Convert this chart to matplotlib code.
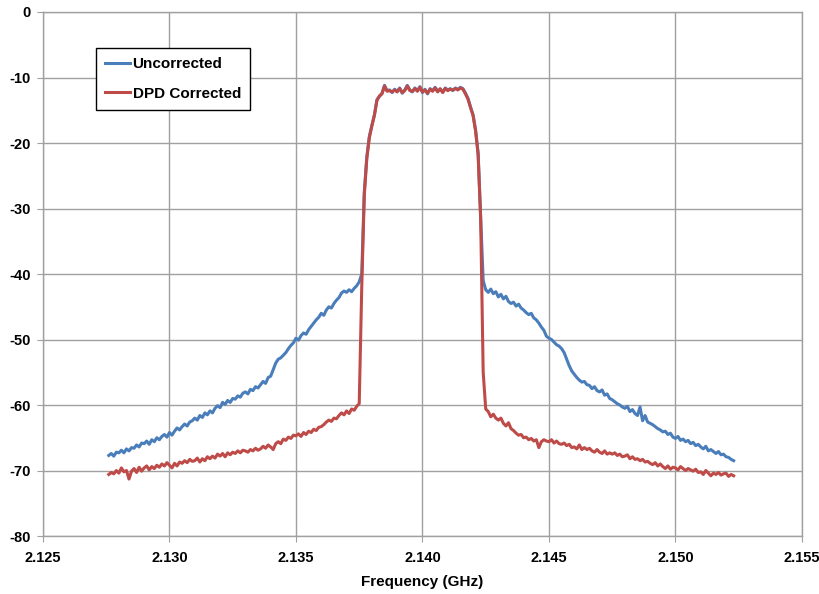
import numpy as np
import matplotlib
matplotlib.use("Agg")
import matplotlib.pyplot as plt

# frequency grid, 100 kHz steps (GHz)
freq_ghz = np.round(np.arange(2.1276, 2.15235, 0.0001), 4)

uncorrected = [
    -67.7, -67.4, -67.8, -67.2, -67.3, -66.9, -67.3, -66.7, -67.0, -66.5,
    -66.6, -66.1, -66.4, -65.8, -65.9, -65.5, -66.0, -65.3, -65.6, -65.0,
    -65.3, -64.8, -64.5, -64.9, -64.2, -64.6, -64.0, -63.5, -63.8, -63.3,
    -62.9, -63.2, -62.6, -62.4, -62.0, -62.3, -61.6, -61.9, -61.2, -61.5,
    -60.9, -61.2, -60.5, -60.1, -60.4, -59.6, -59.9, -59.3, -59.6, -59.0,
    -59.1, -58.6, -58.8, -58.2, -58.0, -58.3, -57.6, -57.8, -57.2, -57.4,
    -56.9, -56.4, -56.7, -55.8, -55.6, -54.6, -53.6, -53.0, -52.8, -52.4,
    -52.0, -51.4, -50.9, -50.5, -49.8, -50.1, -49.4, -49.0, -49.2, -48.5,
    -48.0, -47.5, -47.0, -46.6, -46.0, -46.3, -45.5, -45.0, -45.2, -44.5,
    -44.0, -43.6, -42.9, -42.6, -42.8, -42.4, -42.7, -42.2, -41.8, -41.2,
    -40.0, -27.5, -22.1, -19.0, -17.3, -15.7, -13.4, -12.9, -12.4, -11.2,
    -12.0, -11.9, -12.3, -11.8, -12.1, -11.6, -12.4, -11.9, -11.2, -11.9,
    -12.2, -11.6, -12.0, -11.4, -12.3, -11.8, -12.5, -11.7, -12.0, -11.5,
    -12.1, -11.8, -12.2, -11.6, -11.9, -11.7, -12.0, -11.6, -11.8, -11.5,
    -11.7, -12.4, -13.2, -14.5, -15.7, -18.0, -21.5, -31.3, -41.0, -42.4,
    -42.8, -42.3, -43.0, -42.7, -43.5, -43.1, -43.8, -43.4, -44.2, -44.5,
    -44.3, -44.9, -44.6, -45.2, -45.5, -45.9, -46.2, -46.0, -46.7, -47.0,
    -47.5, -48.1, -48.6, -49.5, -49.8, -50.0, -50.4, -50.8, -51.0, -51.4,
    -52.0, -53.0, -54.0, -54.8, -55.3, -55.8, -56.2, -56.5, -56.4, -56.9,
    -57.0, -57.5, -57.2, -57.8, -58.0, -57.7, -58.5, -58.3, -59.0, -59.2,
    -59.5, -59.8, -60.0, -60.3, -60.5, -60.2, -61.0, -60.7, -61.3, -61.6,
    -60.3, -62.4, -61.6, -62.6, -62.8, -63.0, -63.3, -63.6, -63.8, -64.1,
    -64.0, -64.5, -64.3, -64.9, -65.1, -64.8, -65.4, -65.2, -65.6, -65.4,
    -65.9, -65.7, -66.2, -66.0, -66.4, -66.7, -66.3, -67.0, -66.8, -67.1,
    -67.4, -67.1, -67.6, -67.5, -67.9, -68.0, -68.3, -68.5,
]

dpd_corrected = [
    -70.6, -70.3, -70.5, -70.0, -70.4, -69.6, -70.2, -70.0, -71.3, -70.1,
    -69.7, -70.3, -69.5, -70.1, -69.6, -69.3, -69.9, -69.4, -69.7, -69.2,
    -69.5, -69.0, -69.3, -68.8, -69.2, -69.6, -68.9, -69.3, -68.7, -68.9,
    -68.5, -68.8, -68.3, -68.6, -68.5, -68.1, -68.7, -68.2, -68.5, -67.9,
    -68.2, -67.8, -68.1, -67.5, -67.8, -67.4, -67.9, -67.3, -67.6, -67.2,
    -67.4, -67.0, -67.3, -66.9, -67.0, -67.2, -66.8, -67.0, -66.6, -66.9,
    -66.7, -66.3, -66.6, -66.1, -66.4, -66.8, -65.9, -65.6, -65.9, -65.2,
    -65.4, -64.9, -65.1, -64.6, -64.7, -64.4, -64.8, -64.2, -64.5, -64.0,
    -64.2, -63.7, -63.9, -63.4, -63.3, -63.0, -62.6, -62.3, -62.5, -62.0,
    -62.1, -61.6, -61.2, -61.5, -60.9, -61.3, -60.6, -60.8, -60.2, -59.8,
    -42.0, -28.0, -22.4, -19.2, -17.4, -15.8, -13.5, -12.8, -12.5, -11.3,
    -12.1, -12.0, -12.2, -11.9, -12.2, -11.7, -12.3, -12.0, -11.3, -12.0,
    -12.1, -11.7, -12.1, -11.5, -12.2, -11.9, -12.4, -11.8, -12.1, -11.6,
    -12.2, -11.7, -12.3, -11.7, -12.0, -11.8, -11.9, -11.7, -11.9, -11.6,
    -11.8, -12.5, -13.3, -14.6, -15.8, -18.2, -21.8, -31.5, -55.0, -60.6,
    -61.0, -61.8, -61.4, -62.0, -62.3, -62.0, -62.8, -63.2, -62.7, -63.6,
    -63.9, -64.3, -64.6, -64.5, -65.0, -64.9, -65.3, -65.1, -65.5, -65.3,
    -66.5, -65.6, -65.3, -65.5, -65.6, -65.3, -65.8, -65.5, -65.9, -66.0,
    -65.8, -66.2, -66.0, -66.5, -66.4, -66.7, -66.1, -66.8, -66.5, -66.8,
    -66.6, -67.0, -67.2, -66.8, -67.2, -67.4, -67.0, -67.5, -67.3, -67.5,
    -67.3, -67.7, -67.5, -67.9, -67.8, -67.6, -68.2, -67.9, -68.3, -68.2,
    -68.5, -68.3, -68.7, -68.6, -68.9, -69.1, -68.8, -69.3, -69.0, -69.4,
    -69.7, -69.3, -69.8, -69.5, -69.6, -69.9, -69.4, -69.7, -70.0, -69.7,
    -69.9, -70.1, -69.8, -70.3, -70.2, -70.6, -70.0, -70.4, -70.8, -70.4,
    -70.6, -70.3, -70.7, -70.5, -70.4, -70.9, -70.6, -70.8,
]

x_ticks = [2.125, 2.130, 2.135, 2.140, 2.145, 2.150, 2.155]
y_ticks = [0, -10, -20, -30, -40, -50, -60, -70, -80]

plt.rcParams["font.family"] = ["Liberation Sans", "DejaVu Sans"]
plt.rcParams["font.weight"] = "bold"

fig = plt.figure(figsize=(8.2, 5.94), dpi=100)
ax = fig.add_axes([0.0524, 0.0976, 0.9256, 0.8822])

ax.plot(freq_ghz, uncorrected, color="#4a7ebb", lw=2.2, label="Uncorrected")
ax.plot(freq_ghz, dpd_corrected, color="#be4b48", lw=2.2, label="DPD Corrected")

ax.set_xlim(2.125, 2.155)
ax.set_ylim(-80, 0)
ax.set_xticks(x_ticks)
ax.set_xticklabels([f"{t:.3f}" for t in x_ticks])
ax.set_yticks(y_ticks)
ax.set_yticklabels([str(t) for t in y_ticks])
ax.grid(True, color="#a0a0a0", lw=1.0)
ax.set_axisbelow(True)
for s in ax.spines.values():
    s.set_color("#a0a0a0")
    s.set_linewidth(1.0)
ax.tick_params(direction="out", length=4, color="#a0a0a0", labelsize=10.5, pad=7)
ax.tick_params(axis="y", pad=5)

ax.set_xlabel("Frequency (GHz)", fontsize=11, fontweight="bold", labelpad=7)

leg = ax.legend(loc="upper left", bbox_to_anchor=(0.0698, 0.931), borderaxespad=0,
                fancybox=False, edgecolor="black", framealpha=1, fontsize=11,
                handlelength=1.6, handletextpad=0.2, labelspacing=1.0,
                borderpad=0.6)
leg.get_frame().set_linewidth(1.0)
for t in leg.get_texts():
    t.set_fontweight("bold")

fig.savefig("out.png", dpi=100)
